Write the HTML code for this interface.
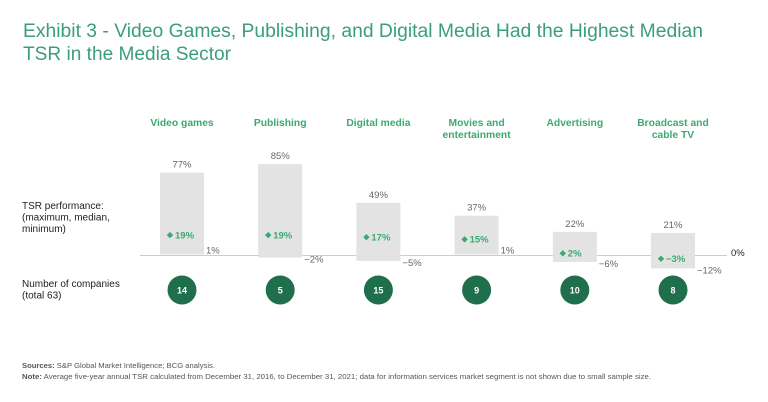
<!DOCTYPE html>
<html><head><meta charset="utf-8"><style>
html,body{margin:0;padding:0;background:#fff;}
svg{display:block;font-family:"Liberation Sans",sans-serif;}
</style></head><body>
<svg id="c" width="768" height="402" viewBox="0 0 768 402">
<text x="23" y="37" font-size="19" fill="#3a9e7c" textLength="680" lengthAdjust="spacingAndGlyphs">Exhibit 3 - Video Games, Publishing, and Digital Media Had the Highest Median</text>
<text x="23" y="60" font-size="19" fill="#3a9e7c" textLength="208" lengthAdjust="spacingAndGlyphs">TSR in the Media Sector</text>
<g font-size="10" fill="#222">
<text x="22" y="209">TSR performance:</text>
<text x="22" y="220.5">(maximum, median,</text>
<text x="22" y="232">minimum)</text>
</g>
<g font-size="10" fill="#222">
<text x="22" y="287">Number of companies</text>
<text x="22" y="298.5">(total 63)</text>
</g>
<line x1="140" y1="255.5" x2="727" y2="255.5" stroke="#bbb" stroke-width="0.8"/>
<text x="731" y="256" font-size="9.5" fill="#222">0%</text>
<g id="marks"></g>
<g font-size="7.5" fill="#555">
<text x="22" y="368" textLength="193" lengthAdjust="spacingAndGlyphs"><tspan font-weight="bold">Sources:</tspan> S&amp;P Global Market Intelligence; BCG analysis.</text>
<text x="22" y="379" textLength="629" lengthAdjust="spacingAndGlyphs"><tspan font-weight="bold">Note:</tspan> Average five-year annual TSR calculated from December 31, 2016, to December 31, 2021; data for information services market segment is not shown due to small sample size.</text>
</g>
</svg>
<script>
const categories=[["Video games"],["Publishing"],["Digital media"],["Movies and","entertainment"],["Advertising"],["Broadcast and","cable TV"]];
const maxVals=[77,85,49,37,22,21];
const medianVals=[19,19,17,15,2,-3];
const minVals=[1,-2,-5,1,-6,-12];
const companyCounts=[14,5,15,9,10,8];
const NS="http://www.w3.org/2000/svg";
const g=document.getElementById('marks');
const y=v=>255.5-v*1.075;
const xc=i=>182+i*98.2;
const fmt=v=>(v<0?"\u2212"+Math.abs(v):v)+"%";
function mk(t,a,txt){const e=document.createElementNS(NS,t);for(const k in a)e.setAttribute(k,a[k]);if(txt!==undefined)e.textContent=txt;g.appendChild(e);return e;}
categories.forEach((c,i)=>{
 const cx=xc(i);
 c.forEach((l,j)=>{const t=mk('text',{x:cx,y:126+j*12,'font-size':10.3,'font-weight':'bold',fill:'#3aaa72','text-anchor':'middle'},l);
 
 });
 const topR=y(maxVals[i]),botR=y(minVals[i]);
 const r=mk('rect',{x:cx-22,y:topR,width:44,height:Math.max(0,botR-topR),fill:'#e3e3e3'});
 
 
 const mx=mk('text',{x:cx,y:topR-5,'font-size':9.5,fill:'#666','text-anchor':'middle'},fmt(maxVals[i]));
 
 
 const mn=mk('text',{x:cx+24,y:botR+(minVals[i]<0?5:-1),'font-size':9.5,fill:'#666'},fmt(minVals[i]));
 
 
 const my=y(medianVals[i]);
 const d=mk('path',{d:`M${cx-12} ${my-3.2}l3.2 3.2l-3.2 3.2l-3.2 -3.2z`,fill:'#3aaa72'});
 
 
 const ml=mk('text',{x:cx-7,y:my+3.3,'font-size':9.5,'font-weight':'bold',fill:'#3aaa72'},fmt(medianVals[i]));
 
 
 const ci=mk('circle',{cx:cx,cy:290,r:14.5,fill:'#1f6e4c'});
 
 
 const ct=mk('text',{x:cx,y:293.3,'font-size':9,'font-weight':'bold',fill:'#fff','text-anchor':'middle'},companyCounts[i]);
 
 
});
</script>
</body></html>
